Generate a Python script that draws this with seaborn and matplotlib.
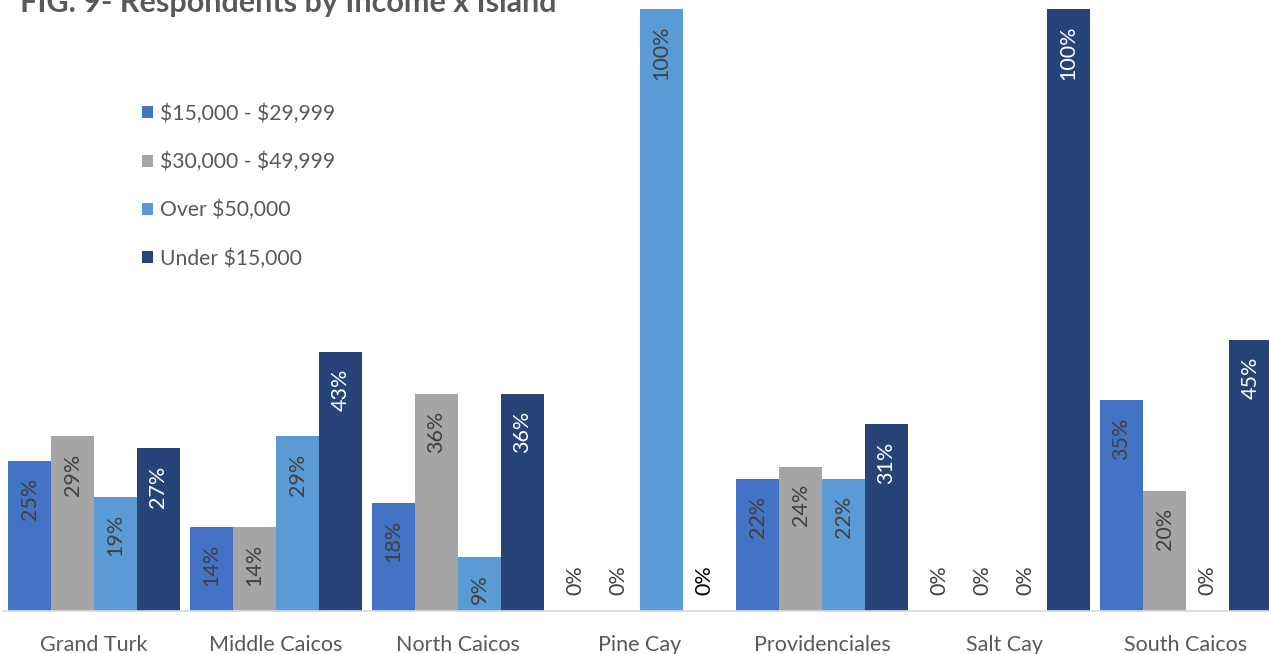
import matplotlib
matplotlib.use("Agg")
import matplotlib.pyplot as plt
import seaborn as sns
import pandas as pd

islands = ["Grand Turk", "Middle Caicos", "North Caicos", "Pine Cay",
           "Providenciales", "Salt Cay", "South Caicos"]
income_groups = ["$15,000 - $29,999", "$30,000 - $49,999", "Over $50,000", "Under $15,000"]
pct_15_30k = [25, 14, 18, 0, 22, 0, 35]
pct_30_50k = [29, 14, 36, 0, 24, 0, 20]
pct_over_50k = [19, 29, 9, 100, 22, 0, 0]
pct_under_15k = [27, 43, 36, 0, 31, 100, 45]
series = [pct_15_30k, pct_30_50k, pct_over_50k, pct_under_15k]
colors = ["#4472C4", "#A5A5A5", "#5B9BD5", "#264478"]
label_colors = ["#404040", "#404040", "#404040", "#FFFFFF"]

rows = []
for grp, vals in zip(income_groups, series):
    for isl, v in zip(islands, vals):
        rows.append({"island": isl, "income": grp, "pct": v})
df = pd.DataFrame(rows)

sns.set_theme(style="white")
plt.rcParams["font.family"] = ["Lato", "DejaVu Sans"]

W, H = 1269, 654
fig = plt.figure(figsize=(W / 100, H / 100), dpi=100)
ax = fig.add_axes([3 / W, (H - 611) / H, 1266 / W, 602 / H])

sns.barplot(data=df, x="island", y="pct", hue="income", order=islands,
            hue_order=income_groups, palette=colors, width=0.945,
            saturation=1, linewidth=0, ax=ax)

ax.set_xlim(-0.5, 6.456)
ax.set_ylim(0, 100)
ax.set_xlabel("")
ax.set_ylabel("")
ax.set_yticks([])
for side in ["left", "right", "top"]:
    ax.spines[side].set_visible(False)
ax.spines["bottom"].set_color("#D9D9D9")
ax.spines["bottom"].set_linewidth(1.2)
ax.tick_params(axis="x", length=0, pad=17, labelsize=15.5, labelcolor="#595959")

# value labels inside the top of each bar
for si, cont in enumerate(ax.containers):
    vals = series[si]
    for bar, v in zip(cont, vals):
        xc = bar.get_x() + bar.get_width() / 2
        h = bar.get_height()
        if v == 0:
            color = "#000000" if si == 3 else "#404040"
            ax.annotate(f"{v}%", (xc, 0), xytext=(0, 11.5), textcoords="offset points",
                        rotation=90, ha="center", va="bottom", fontsize=15.5, color=color)
        else:
            ax.annotate(f"{v}%", (xc, h), xytext=(0, -12.2), textcoords="offset points",
                        rotation=90, ha="center", va="top", fontsize=15.5,
                        color=label_colors[si])

handles, labels = ax.get_legend_handles_labels()
leg = ax.legend(handles, labels, loc="upper left", bbox_to_anchor=(134 / W, 1 - 95 / H),
                bbox_transform=fig.transFigure, frameon=False, fontsize=15.2,
                handlelength=0.5, handleheight=0.5, handletextpad=0.35,
                labelspacing=1.32, labelcolor="#595959", borderaxespad=0)
for t in leg.get_texts():
    t.set_parse_math(False)

fig.text(20 / W, 1 - 12 / H, "FIG. 9- Respondents by Income x Island",
         ha="left", va="baseline", fontsize=22, fontweight="bold", color="#595959")

fig.savefig("out.png", dpi=100)
